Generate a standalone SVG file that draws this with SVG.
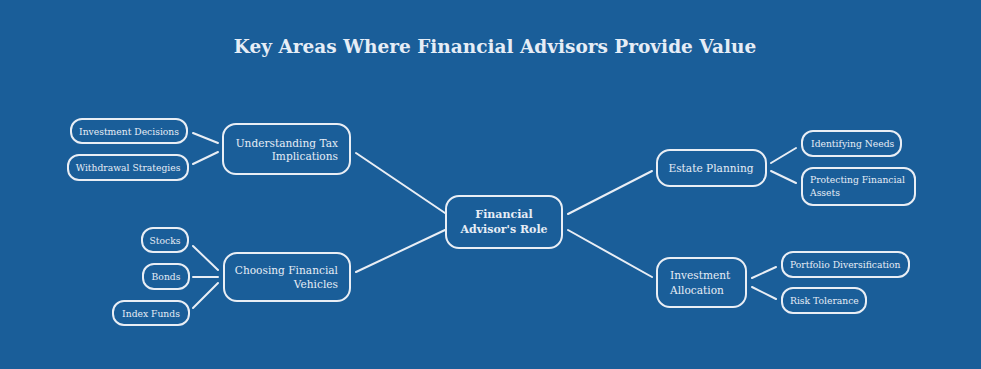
<svg xmlns="http://www.w3.org/2000/svg" width="981" height="369" viewBox="0 0 981 369">
<defs>
<style>
.bg{fill:#1a5e99}
.box{fill:none;stroke:#e9eef5;stroke-width:2}
.edge{stroke:#e9eef5;stroke-width:2;fill:none;stroke-linecap:round}
text{font-family:"DejaVu Serif","Liberation Serif",serif;fill:#e6edf6}
.title{font-size:18.5px;font-weight:bold}
.mid{font-size:10.6px}
.leaf{font-size:9.2px}
.center{font-size:11px;font-weight:bold}
</style>
</defs>
<rect class="bg" x="0" y="0" width="981" height="369"/>
<text class="title" x="495" y="53" text-anchor="middle">Key Areas Where Financial Advisors Provide Value</text>
<g id="connectors">
<line class="edge" x1="445" y1="213" x2="356" y2="153"/>
<line class="edge" x1="445" y1="230" x2="356" y2="272"/>
<line class="edge" x1="568" y1="214" x2="652" y2="171"/>
<line class="edge" x1="568" y1="230" x2="652" y2="277"/>
<line class="edge" x1="218" y1="143" x2="193" y2="133"/>
<line class="edge" x1="218" y1="152" x2="193" y2="164"/>
<line class="edge" x1="218" y1="270" x2="193" y2="246"/>
<line class="edge" x1="218" y1="277" x2="193" y2="277"/>
<line class="edge" x1="218" y1="283" x2="193" y2="308"/>
<line class="edge" x1="771" y1="163" x2="796" y2="148"/>
<line class="edge" x1="771" y1="171" x2="796" y2="183"/>
<line class="edge" x1="752" y1="278" x2="776" y2="267"/>
<line class="edge" x1="752" y1="287" x2="776" y2="299"/>
</g>
<g id="center">
<rect class="box" x="446" y="196" width="116" height="52" rx="13"/>
<text class="center" x="504" y="218" text-anchor="middle">Financial</text>
<text class="center" x="504" y="233" text-anchor="middle">Advisor's Role</text>
</g>
<g id="tax">
<rect class="box" x="223" y="124" width="127" height="50" rx="13"/>
<text class="mid" x="338" y="147" text-anchor="end">Understanding Tax</text>
<text class="mid" x="338" y="160" text-anchor="end">Implications</text>
</g>
<g id="invdec">
<rect class="box" x="71" y="119" width="116" height="24" rx="11"/>
<text class="leaf" x="129" y="135" text-anchor="middle">Investment Decisions</text>
</g>
<g id="withdrawal">
<rect class="box" x="68" y="155" width="120" height="25" rx="11"/>
<text class="leaf" x="128" y="171" text-anchor="middle">Withdrawal Strategies</text>
</g>
<g id="vehicles">
<rect class="box" x="224" y="253" width="126" height="48" rx="13"/>
<text class="mid" x="338" y="274" text-anchor="end">Choosing Financial</text>
<text class="mid" x="338" y="288" text-anchor="end">Vehicles</text>
</g>
<g id="stocks">
<rect class="box" x="142" y="228" width="46" height="24" rx="11"/>
<text class="leaf" x="165" y="244" text-anchor="middle">Stocks</text>
</g>
<g id="bonds">
<rect class="box" x="143" y="264" width="46" height="25" rx="11"/>
<text class="leaf" x="166" y="280" text-anchor="middle">Bonds</text>
</g>
<g id="index">
<rect class="box" x="113" y="301" width="76" height="24" rx="11"/>
<text class="leaf" x="151" y="317" text-anchor="middle">Index Funds</text>
</g>
<g id="estate">
<rect class="box" x="657" y="150" width="109" height="36" rx="13"/>
<text class="mid" x="711" y="172" text-anchor="middle">Estate Planning</text>
</g>
<g id="needs">
<rect class="box" x="802" y="131" width="99" height="25" rx="11"/>
<text class="leaf" x="811" y="147">Identifying Needs</text>
</g>
<g id="protect">
<rect class="box" x="802" y="168" width="113" height="37" rx="11"/>
<text class="leaf" x="810" y="183">Protecting Financial</text>
<text class="leaf" x="810" y="196">Assets</text>
</g>
<g id="allocation">
<rect class="box" x="657" y="258" width="89" height="49" rx="13"/>
<text class="mid" x="670" y="279">Investment</text>
<text class="mid" x="670" y="294">Allocation</text>
</g>
<g id="portfolio">
<rect class="box" x="782" y="252" width="127" height="25" rx="11"/>
<text class="leaf" x="790" y="268">Portfolio Diversification</text>
</g>
<g id="risk">
<rect class="box" x="782" y="288" width="84" height="25" rx="11"/>
<text class="leaf" x="790" y="304">Risk Tolerance</text>
</g>
</svg>
